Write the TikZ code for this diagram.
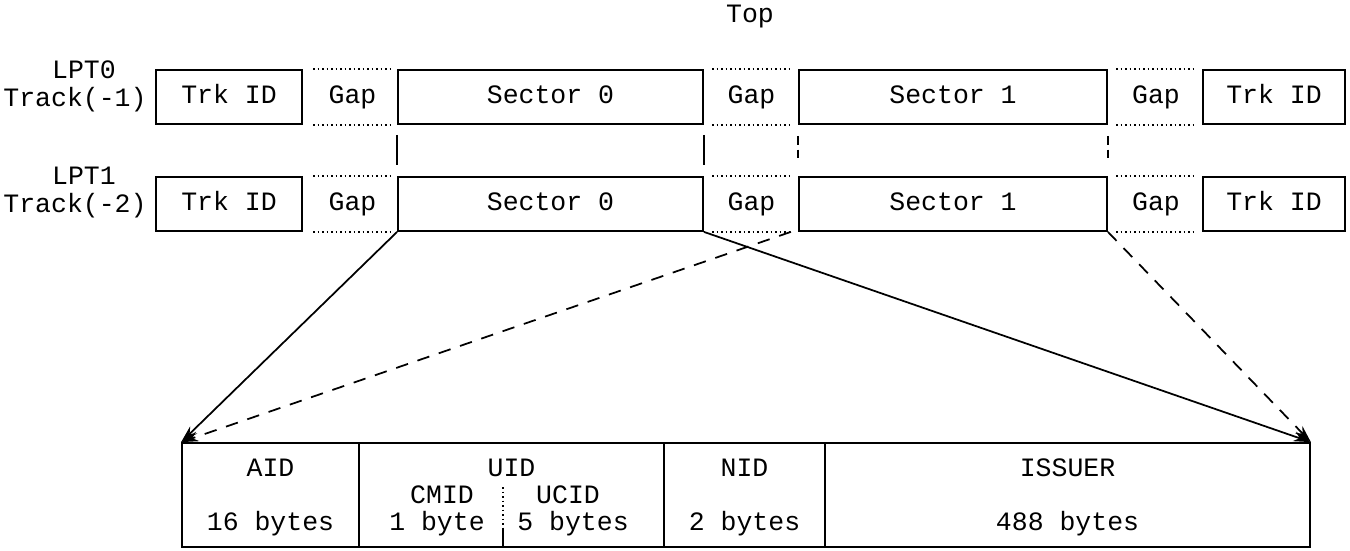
\documentclass[tikz,border=0pt]{standalone}
\usepackage{fontspec}
\setmonofont{Liberation Mono}
\usetikzlibrary{arrows.meta}

\begin{document}
\begin{tikzpicture}[x=0.4pt,y=-0.4pt,
  font=\ttfamily\fontsize{10.6}{12}\selectfont,
  line width=0.7pt,
  field/.style={draw, minimum height=21.6pt, inner sep=0pt, text height=7pt, text depth=1.4pt},
  gapfield/.style={minimum height=21.6pt, inner sep=0pt, text height=7pt, text depth=1.4pt},
  gapline/.style={line width=0.9pt, dash pattern=on 0.6pt off 1.2pt},
  cell/.style={draw, minimum height=41.6pt, inner sep=0pt},
  label/.style={inner sep=0pt, anchor=base},
  link/.style={line width=0.7pt, -{Stealth[length=7pt,width=4pt]}},
  linkdash/.style={link, dash pattern=on 5pt off 4pt},
  tie/.style={line width=0.7pt},
  tiedash/.style={line width=0.7pt, dash pattern=on 3.5pt off 2pt}]

\useasboundingbox (0,0) rectangle (1350,551);

\node[label] (top) at (750,23) {Top};

% track (-1)
\node[label] (lpt0) at (84,79) {LPT0};
\node[label] (trk1) at (75,107) {Track(-1)};
\node[field, minimum width=58.4pt] (t1a) at (229,97) {Trk ID};
\node[gapfield, minimum width=30.8pt] (g1a) at (352.5,97) {Gap};
\node[field, minimum width=122pt] (s0a) at (550.5,97) {Sector 0};
\node[gapfield, minimum width=30.8pt] (g2a) at (751.5,97) {Gap};
\node[field, minimum width=123.2pt] (s1a) at (953,97) {Sector 1};
\node[gapfield, minimum width=31.2pt] (g3a) at (1156,97) {Gap};
\node[field, minimum width=56.8pt] (t2a) at (1274,97) {Trk ID};

% track (-2)
\node[label] (lpt1) at (84,185) {LPT1};
\node[label] (trk2) at (75,213) {Track(-2)};
\node[field, minimum width=58.4pt] (t1b) at (229,204) {Trk ID};
\node[gapfield, minimum width=30.8pt] (g1b) at (352.5,204) {Gap};
\node[field, minimum width=122pt] (s0b) at (550.5,204) {Sector 0};
\node[gapfield, minimum width=30.8pt] (g2b) at (751.5,204) {Gap};
\node[field, minimum width=123.2pt] (s1b) at (953,204) {Sector 1};
\node[gapfield, minimum width=31.2pt] (g3b) at (1156,204) {Gap};
\node[field, minimum width=56.8pt] (t2b) at (1274,204) {Trk ID};

% dotted edges of the gaps
\foreach \g in {g1a,g2a,g3a,g1b,g2b,g3b}{
  \draw[gapline] (\g.north west) -- (\g.north east);
  \draw[gapline] (\g.south west) -- (\g.south east);
}

% sector alignment between the tracks
\draw[tie] ([yshift=-4pt]s0a.south west) -- ([yshift=4.6pt]s0b.north west);
\draw[tie] ([yshift=-4pt]s0a.south east) -- ([yshift=4.6pt]s0b.north east);
\draw[tiedash] ([yshift=-4.4pt]s1a.south west) -- ([yshift=5.4pt]s1b.north west);
\draw[tiedash] ([yshift=-4.4pt]s1a.south east) -- ([yshift=5.4pt]s1b.north east);

% sector layout
\node[cell, minimum width=70.8pt] (aid) at (270.5,495) {};
\node[cell, minimum width=122pt] (uid) at (511.5,495) {};
\node[cell, minimum width=64.4pt] (nid) at (744.5,495) {};
\node[cell, minimum width=194pt] (iss) at (1067.5,495) {};

\node[label] (aidt) at (270.5,476) {AID};
\node[label] (aidb) at (270.5,530) {16 bytes};
\node[label] (uidt) at (511.5,476) {UID};
\node[label] (cmid) at (442,503) {CMID};
\node[label] (ucid) at (568,503) {UCID};
\node[label] (cmidb) at (437,530) {1 byte};
\node[label] (ucidb) at (573,530) {5 bytes};
\node[label] (nidt) at (744.5,476) {NID};
\node[label] (nidb) at (744.5,530) {2 bytes};
\node[label] (isst) at (1067.5,476) {ISSUER};
\node[label] (issb) at (1067.5,530) {488 bytes};

\coordinate (splittop) at (503,487);
\coordinate (splitmid) at (503,528);
\coordinate (splitbot) at (503,547);
\draw[gapline] (splittop) -- (splitmid);
\draw[tie] (splitmid) -- (splitbot);

% expansion of sector 0
\draw[link] (s0b.south west) -- (aid.north west);
\draw[link] (s0b.south east) -- (iss.north east);
\draw[linkdash] (g2b.south east) -- (aid.north west);
\draw[linkdash] (s1b.south east) -- (iss.north east);

\end{tikzpicture}
\end{document}
